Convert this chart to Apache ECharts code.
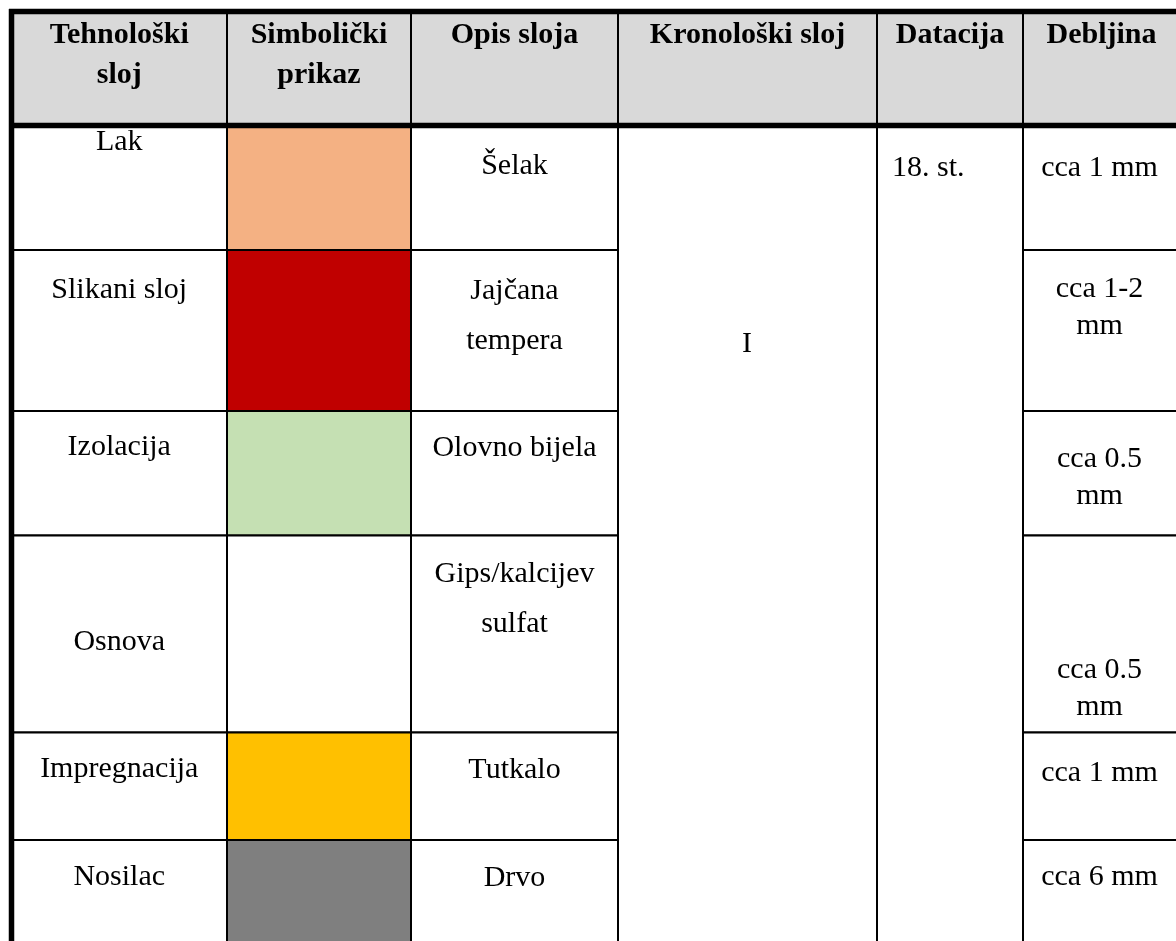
<!DOCTYPE html>
<html><head><meta charset="utf-8">
<script src="https://cdn.jsdelivr.net/npm/echarts@6/dist/echarts.min.js"></script>
<style>html,body{margin:0;padding:0;background:#fff}#c{width:1176px;height:941px}</style>
</head><body><div id="c"></div>
<script>
// ---- table content ----
const headers = ['Tehnološki\nsloj', 'Simbolički\nprikaz', 'Opis sloja', 'Kronološki sloj', 'Datacija', 'Debljina'];
const layers = ['Lak', 'Slikani sloj', 'Izolacija', 'Osnova', 'Impregnacija', 'Nosilac'];
const symbolColors = ['#F4B183', '#C00000', '#C5E0B3', '#FFFFFF', '#FFC000', '#7F7F7F'];
const descriptions = ['Šelak', 'Jajčana\ntempera', 'Olovno bijela', 'Gips/kalcijev\nsulfat', 'Tutkalo', 'Drvo'];
const chronoLayer = 'I';
const dating = '18. st.';
const thickness = ['cca 1 mm', 'cca 1-2\nmm', 'cca 0.5\nmm', 'cca 0.5\nmm', 'cca 1 mm', 'cca 6 mm'];

// ---- layout (page space units) ----
const W = 1176, H = 941;
const colEdges = [11.5, 227, 411, 618, 877, 1023, 1180];
const rowEdges = [11.5, 125.5, 250, 411, 535.5, 732.5, 840, 990];
const headerTextY = 35, headerLH = 40;
const layerTextY = [142, 290, 447, 642, 769, 877];
const descTextY = [166, 291, 448, 574, 770, 878], descLH = 50;
const thickTextY = [168, 289, 459, 670, 773, 877], thickLH = 37;
const chronoPos = [747, 344];
const datingPos = [892, 168];
const FONT = '"Liberation Serif", "Times New Roman", serif';
const FS = 30;

const cells = [];
function mid(c) { return (colEdges[c] + colEdges[c + 1]) / 2; }
headers.forEach((h, c) => cells.push({
  x0: colEdges[c], y0: rowEdges[0], x1: colEdges[c + 1], y1: rowEdges[1],
  fill: '#D9D9D9', text: h, tx: mid(c), ty: headerTextY, lh: headerLH, bold: true, align: 'center'
}));
layers.forEach((name, r) => {
  const y0 = rowEdges[r + 1], y1 = rowEdges[r + 2];
  cells.push({ x0: colEdges[0], y0, x1: colEdges[1], y1, fill: '#fff', text: name, tx: mid(0), ty: layerTextY[r], lh: 36, align: 'center' });
  cells.push({ x0: colEdges[1], y0, x1: colEdges[2], y1, fill: symbolColors[r], text: '' });
  cells.push({ x0: colEdges[2], y0, x1: colEdges[3], y1, fill: '#fff', text: descriptions[r], tx: mid(2), ty: descTextY[r], lh: descLH, align: 'center' });
  cells.push({ x0: colEdges[5], y0, x1: colEdges[6], y1, fill: '#fff', text: thickness[r], tx: mid(5) - 2, ty: thickTextY[r], lh: thickLH, align: 'center' });
});
cells.push({ x0: colEdges[3], y0: rowEdges[1], x1: colEdges[4], y1: rowEdges[7], fill: '#fff', text: chronoLayer, tx: chronoPos[0], ty: chronoPos[1], lh: 36, align: 'center' });
cells.push({ x0: colEdges[4], y0: rowEdges[1], x1: colEdges[5], y1: rowEdges[7], fill: '#fff', text: dating, tx: datingPos[0], ty: datingPos[1], lh: 36, align: 'left' });

// thick outer/header rules
const thickLines = [
  [9, rowEdges[0], W, rowEdges[0]],
  [9, rowEdges[1], W, rowEdges[1]],
  [colEdges[0], 9, colEdges[0], H + 20]
];

const chart = echarts.init(document.getElementById('c'), null, { renderer: 'canvas' });
chart.setOption({
  animation: false,
  backgroundColor: '#fff',
  grid: { left: 0, right: 0, top: 0, bottom: 0 },
  xAxis: { type: 'value', min: 0, max: W, show: false },
  yAxis: { type: 'value', min: 0, max: H, inverse: true, show: false },
  series: [
    {
      type: 'custom', clip: false,
      data: cells.map((c, i) => [c.x0, c.y0, c.x1, c.y1, i]),
      encode: { x: [0, 2], y: [1, 3] },
      renderItem: function (params, api) {
        const c = cells[api.value(4)];
        const p0 = api.coord([c.x0, c.y0]);
        const p1 = api.coord([c.x1, c.y1]);
        const children = [{
          type: 'rect',
          shape: { x: p0[0], y: p0[1], width: p1[0] - p0[0], height: p1[1] - p0[1] },
          style: { fill: c.fill, stroke: '#000', lineWidth: 2 }
        }];
        if (c.text) {
          const t = api.coord([c.tx, c.ty]);
          children.push({
            type: 'text', z2: 10,
            style: {
              text: c.text, x: t[0], y: t[1] - c.lh / 2,
              align: c.align, verticalAlign: 'top', lineHeight: c.lh,
              fontFamily: FONT, fontSize: FS, fontWeight: c.bold ? 'bold' : 'normal',
              fill: '#000'
            }
          });
        }
        return { type: 'group', children };
      }
    },
    {
      type: 'custom', clip: false, z: 5,
      data: thickLines,
      encode: { x: [0, 2], y: [1, 3] },
      renderItem: function (params, api) {
        const p0 = api.coord([api.value(0), api.value(1)]);
        const p1 = api.coord([api.value(2), api.value(3)]);
        return {
          type: 'line',
          shape: { x1: p0[0], y1: p0[1], x2: p1[0], y2: p1[1] },
          style: { stroke: '#000', lineWidth: 5.5 }
        };
      }
    }
  ]
});
</script></body></html>
